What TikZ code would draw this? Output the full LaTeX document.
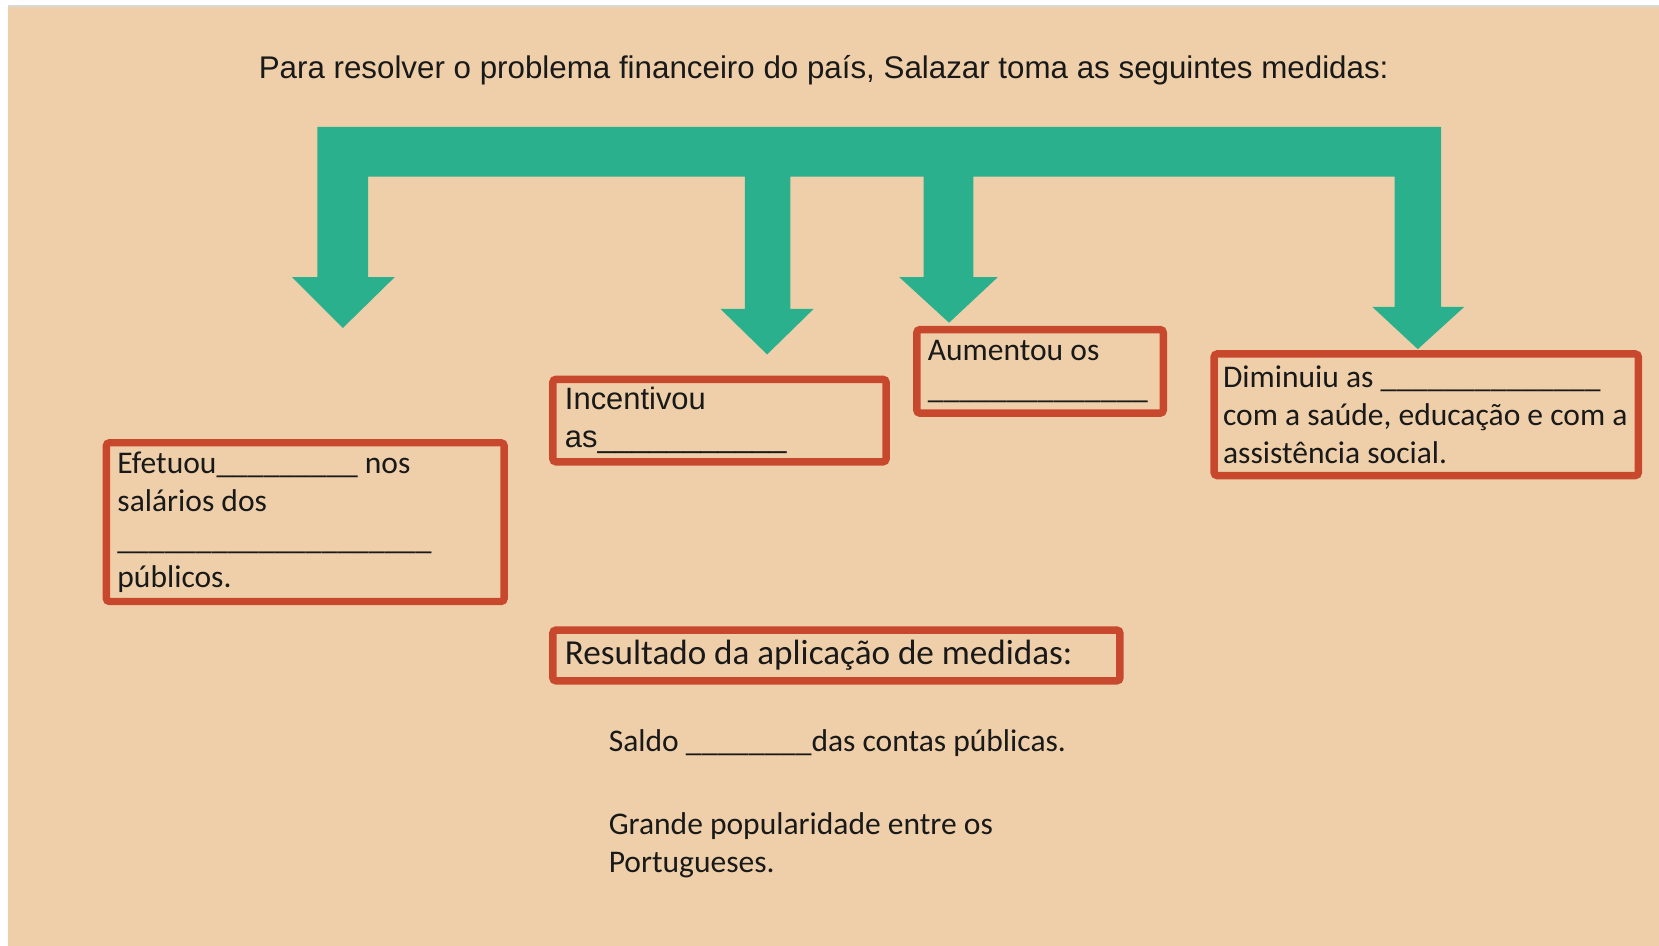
\documentclass[tikz,border=0pt]{standalone}
\usepackage{fontspec}
\setmainfont{Carlito}
\newfontfamily\arialfont{Liberation Sans}
\usetikzlibrary{positioning}
\definecolor{SlideTan}{HTML}{EECFA9}
\definecolor{ArrowGreen}{HTML}{2AB08C}
\definecolor{BoxRed}{HTML}{C8482D}
\definecolor{TopLine}{HTML}{D9D9D9}

\begin{document}
\begin{tikzpicture}[
  x=0.5pt, y=-0.5pt,
  box/.style={draw=BoxRed,line width=3.5pt,rounded corners=1.5pt,anchor=north west,align=flush left,inner ysep=0pt,text=black!90,font=\fontsize{14.9}{18}\selectfont},
  plain/.style={anchor=west,align=flush left,inner sep=0pt,text=black!90,font=\fontsize{14.9}{18}\selectfont},
  shaft/.style={fill=ArrowGreen}
]
  \useasboundingbox (0,0) rectangle (1568,894);
  \fill[white] (0,0) rectangle (1568,894);
  \fill[SlideTan] (8,6) rectangle (1568,894);
  \draw[TopLine,line width=1pt] (8,5.5) -- (1568,5.5);

  \node[text=black!90,font=\arialfont\fontsize{14.8}{17}\selectfont] (title) at (778.5,66)
    {Para resolver o problema financeiro do país, Salazar toma as seguintes medidas:};

  \fill[shaft] (300,120) -- (1362,120) -- (1362,290) -- (1384,290) -- (1340,330) -- (1297,290)
    -- (1318,290) -- (1318,167) -- (920,167) -- (920,262) -- (943,262) -- (897,305) -- (850,262)
    -- (873,262) -- (873,167) -- (747,167) -- (747,292) -- (769,292) -- (725,335) -- (681,292)
    -- (704,292) -- (704,167) -- (348,167) -- (348,262) -- (373,262) -- (324,310) -- (276,262)
    -- (300,262) -- cycle;

  \node[box,inner xsep=5.25pt,text width=177.5pt,minimum height=75pt] (efetuou) at (97,415)
    {Efetuou\_\_\_\_\_\_\_\_\_ nos\\salários dos\\\_\_\_\_\_\_\_\_\_\_\_\_\_\_\_\_\_\_\_\_\\públicos.};
  \node[box,inner xsep=5.75pt,text width=146pt,minimum height=39pt,font=\arialfont\fontsize{14.6}{18}\selectfont] (incentivou) at (519,355)
    {Incentivou\\as\_\_\_\_\_\_\_\_\_\_\_};
  \node[box,inner xsep=5.25pt,text width=106pt,minimum height=39.5pt] (aumentou) at (863,308)
    {Aumentou os\\\_\_\_\_\_\_\_\_\_\_\_\_\_\_};
  \node[box,inner xsep=4.25pt,text width=192pt,minimum height=57.5pt] (diminuiu) at (1144,331)
    {Diminuiu as \_\_\_\_\_\_\_\_\_\_\_\_\_\_\\com a saúde, educação e com a\\assistência social.};
  \node[box,inner xsep=5.75pt,text width=256.5pt,minimum height=24pt,font=\fontsize{16.6}{18}\selectfont] (resultado) at (519,592)
    {Resultado da aplicação de medidas:};

  \node[plain] (saldo) at (575,702) {Saldo \_\_\_\_\_\_\_\_das contas públicas.};
  \node[plain] (popular) at (575,799) {Grande popularidade entre os\\Portugueses.};
\end{tikzpicture}
\end{document}
